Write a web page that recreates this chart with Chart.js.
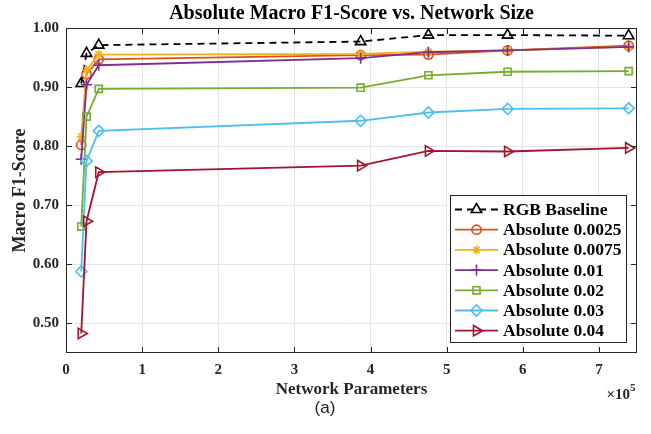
<!DOCTYPE html>
<html>
<head>
<meta charset="utf-8">
<script src="https://cdn.jsdelivr.net/npm/chart.js@4/dist/chart.umd.min.js"></script>
<style>
  html, body { margin: 0; padding: 0; background: #ffffff; }
  #wrap { width: 651px; height: 434px; }
</style>
</head>
<body>
<div id="wrap"><canvas id="c" width="651" height="434"></canvas></div>
<script>
// Network size (number of parameters) for each model variant
const networkParams = [20000, 27000, 43000, 387000, 476000, 580000, 739000];

// Macro F1-score per series
const rgbBaseline = [0.906, 0.957, 0.971, 0.977, 0.988, 0.988, 0.987];
const abs0025     = [0.802, 0.922, 0.947, 0.954, 0.955, 0.962, 0.970];
const abs0075     = [0.816, 0.929, 0.955, 0.956, 0.960, 0.962, 0.968];
const abs001      = [0.778, 0.904, 0.937, 0.949, 0.959, 0.962, 0.968];
const abs002      = [0.664, 0.850, 0.897, 0.899, 0.920, 0.926, 0.927];
const abs003      = [0.588, 0.775, 0.826, 0.843, 0.857, 0.863, 0.864];
const abs004      = [0.483, 0.673, 0.756, 0.767, 0.792, 0.791, 0.797];

const seriesNames = ['RGB Baseline', 'Absolute 0.0025', 'Absolute 0.0075', 'Absolute 0.01',
                     'Absolute 0.02', 'Absolute 0.03', 'Absolute 0.04'];

// Axis ticks
const xTickValues = [0, 100000, 200000, 300000, 400000, 500000, 600000, 700000];
const yTickValues = [0.5, 0.6, 0.7, 0.8, 0.9, 1.0];

const SERIF = '"Liberation Serif", "Times New Roman", serif';

const styles = [
  { color: '#000000', pointStyle: 'triangle', radius: 6,   rotation: 0,  dash: [7, 5] },
  { color: '#D95319', pointStyle: 'circle',   radius: 4.6, rotation: 0,  dash: [] },
  { color: '#EDB120', pointStyle: 'star',     radius: 4.5, rotation: 0,  dash: [] },
  { color: '#7E2F8E', pointStyle: 'cross',    radius: 5.5, rotation: 0,  dash: [] },
  { color: '#77AC30', pointStyle: 'rect',     radius: 5,   rotation: 0,  dash: [] },
  { color: '#4DBEEE', pointStyle: 'rectRot',  radius: 5.5, rotation: 0,  dash: [] },
  { color: '#A2142F', pointStyle: 'triangle', radius: 6,   rotation: 90, dash: [] }
];

const seriesValues = [rgbBaseline, abs0025, abs0075, abs001, abs002, abs003, abs004];

const datasets = seriesValues.map((vals, i) => ({
  label: seriesNames[i],
  data: networkParams.map((x, j) => ({ x: x, y: vals[j] })),
  borderColor: styles[i].color,
  borderWidth: 1.8,
  borderDash: styles[i].dash,
  pointStyle: styles[i].pointStyle,
  pointRadius: styles[i].radius,
  pointRotation: styles[i].rotation,
  pointBorderColor: styles[i].color,
  pointBackgroundColor: 'rgba(0,0,0,0)',
  pointBorderWidth: 1.6,
  tension: 0,
  fill: false,
  order: seriesValues.length - i
}));

function drawMarker(ctx, st, x, y) {
  ctx.save();
  ctx.strokeStyle = st.color;
  ctx.fillStyle = 'rgba(0,0,0,0)';
  ctx.lineWidth = 1.6;
  ctx.setLineDash([]);
  if (Chart.helpers && Chart.helpers.drawPoint) {
    Chart.helpers.drawPoint(ctx, { pointStyle: st.pointStyle, radius: st.radius, rotation: st.rotation, borderWidth: 1.6 }, x, y);
  }
  ctx.restore();
}

const decorations = {
  id: 'decorations',
  afterDraw(chart) {
    const ctx = chart.ctx;
    const ca = chart.chartArea;
    const xs = chart.scales.x, ys = chart.scales.y;
    ctx.save();

    // axes box
    ctx.strokeStyle = '#262626';
    ctx.lineWidth = 1;
    ctx.strokeRect(Math.round(ca.left) + 0.5, Math.round(ca.top) + 0.5,
                   Math.round(ca.right - ca.left) - 1, Math.round(ca.bottom - ca.top) - 1);

    // inward tick marks on all four sides
    const tl = 6;
    ctx.beginPath();
    xTickValues.forEach(v => {
      const px = Math.round(xs.getPixelForValue(v)) + 0.5;
      ctx.moveTo(px, ca.bottom); ctx.lineTo(px, ca.bottom - tl);
      ctx.moveTo(px, ca.top); ctx.lineTo(px, ca.top + tl);
    });
    yTickValues.forEach(v => {
      const py = Math.round(ys.getPixelForValue(v)) + 0.5;
      ctx.moveTo(ca.left, py); ctx.lineTo(ca.left + tl, py);
      ctx.moveTo(ca.right, py); ctx.lineTo(ca.right - tl, py);
    });
    ctx.stroke();

    const cx = (ca.left + ca.right) / 2;
    ctx.fillStyle = '#000000';

    // title
    ctx.font = 'bold 20px ' + SERIF;
    ctx.textAlign = 'center';
    ctx.textBaseline = 'middle';
    ctx.fillText('Absolute Macro F1-Score vs. Network Size', cx, 14);

    // x axis title
    ctx.fillStyle = '#262626';
    ctx.font = 'bold 17px ' + SERIF;
    ctx.fillText('Network Parameters', cx, 390);

    // exponent label
    ctx.font = 'bold 15px ' + SERIF;
    ctx.textAlign = 'right';
    ctx.textBaseline = 'alphabetic';
    ctx.fillText('\u00d710', ca.right - 7, 399);
    ctx.font = 'bold 11px ' + SERIF;
    ctx.textAlign = 'left';
    ctx.fillText('5', ca.right - 7, 391);

    // y axis title
    ctx.save();
    ctx.translate(20, (ca.top + ca.bottom) / 2);
    ctx.rotate(-Math.PI / 2);
    ctx.font = 'bold 18px ' + SERIF;
    ctx.textAlign = 'center';
    ctx.textBaseline = 'middle';
    ctx.fillText('Macro F1-Score', 0, 0);
    ctx.restore();

    // caption
    ctx.fillStyle = '#222222';
    ctx.font = '17px "Liberation Sans", Arial, sans-serif';
    ctx.textAlign = 'center';
    ctx.textBaseline = 'middle';
    ctx.fillText('(a)', 325, 408);

    // legend
    const lw = 176, lh = 147;
    const lx = ca.right - 11 - lw, ly = ca.bottom - 11 - lh;
    ctx.fillStyle = '#ffffff';
    ctx.fillRect(lx, ly, lw, lh);
    ctx.strokeStyle = '#262626';
    ctx.lineWidth = 1;
    ctx.strokeRect(Math.round(lx) + 0.5, Math.round(ly) + 0.5, lw, lh);
    ctx.font = 'bold 17.5px ' + SERIF;
    ctx.textAlign = 'left';
    ctx.textBaseline = 'middle';
    seriesNames.forEach((name, i) => {
      const st = styles[i];
      const ry = ly + 14.5 + i * 20.2;
      ctx.save();
      ctx.strokeStyle = st.color;
      ctx.lineWidth = 1.8;
      ctx.setLineDash(st.dash);
      ctx.beginPath();
      ctx.moveTo(lx + 5, ry); ctx.lineTo(lx + 48, ry);
      ctx.stroke();
      ctx.restore();
      drawMarker(ctx, st, lx + 26.5, ry);
      ctx.fillStyle = '#000000';
      ctx.fillText(name, lx + 53, ry + 1);
    });

    ctx.restore();
  }
};

new Chart(document.getElementById('c'), {
  type: 'line',
  data: { datasets: datasets },
  options: {
    responsive: false,
    animation: false,
    devicePixelRatio: 1,
    layout: { padding: { left: 0, right: 14, top: 28, bottom: 0 } },
    plugins: {
      legend: { display: false },
      tooltip: { enabled: false },
      title: { display: false }
    },
    scales: {
      x: {
        type: 'linear',
        min: 0,
        max: 750000,
        afterFit(scale) { scale.height = 81; },
        afterBuildTicks(scale) { scale.ticks = xTickValues.map(v => ({ value: v })); },
        grid: { color: '#e3e3e3', lineWidth: 1, drawTicks: false },
        border: { display: false },
        ticks: {
          padding: 8,
          color: '#262626',
          font: { family: SERIF, size: 15, weight: 'bold' },
          callback: v => String(Math.round(v / 100000))
        }
      },
      y: {
        type: 'linear',
        min: 0.45,
        max: 1.0,
        afterFit(scale) { scale.width = 66; },
        afterBuildTicks(scale) { scale.ticks = yTickValues.map(v => ({ value: v })); },
        grid: { color: '#e3e3e3', lineWidth: 1, drawTicks: false },
        border: { display: false },
        ticks: {
          padding: 7,
          color: '#262626',
          font: { family: SERIF, size: 15, weight: 'bold' },
          callback: v => v.toFixed(2)
        }
      }
    }
  }
  ,plugins: [decorations]
});
</script>
</body>
</html>
